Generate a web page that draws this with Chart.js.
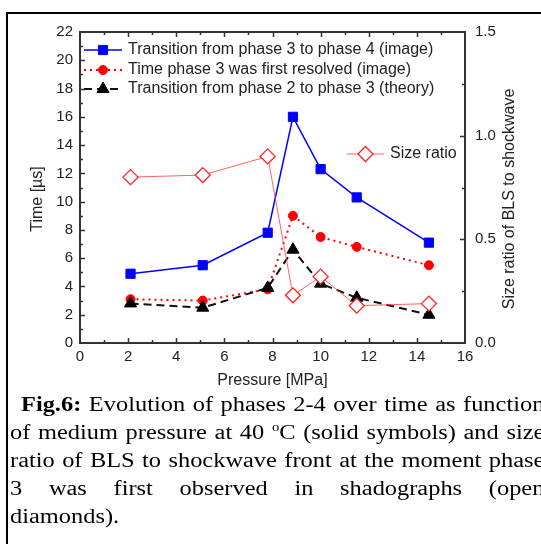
<!DOCTYPE html>
<html>
<head>
<meta charset="utf-8">
<script src="https://cdn.jsdelivr.net/npm/chart.js@4.4.1/dist/chart.umd.min.js"></script>
<style>
  html, body { margin: 0; padding: 0; background: #fff; }
  body { width: 541px; height: 544px; overflow: hidden; position: relative; }
  #frame { position: absolute; left: 6px; top: 12px; width: 700px; height: 700px;
           border-left: 2px solid #000; border-top: 2px solid #000; }
  #chart { position: absolute; left: 0; top: 0; }
  #caption { position: absolute; left: 10px; top: 390px; width: 438px;
             transform: scaleX(1.22); transform-origin: 0 0;
             font-family: "Liberation Serif", "Times New Roman", serif;
             font-size: 20px; line-height: 28px; color: #000; }
  .ln { text-align: justify; text-align-last: justify; }
  .ln.last { text-align-last: left; }
  sup { font-size: 12px; line-height: 0; vertical-align: 8px; }
</style>
</head>
<body>
<div id="frame"></div>
<canvas id="chart" width="541" height="400"></canvas>
<div id="caption">
  <div class="ln" style="text-indent:9px"><b>Fig.6:</b> Evolution of phases 2-4 over time as function</div>
  <div class="ln">of medium pressure at 40 <sup>o</sup>C (solid symbols) and size</div>
  <div class="ln">ratio of BLS to shockwave front at the moment phase</div>
  <div class="ln">3 was first observed in shadographs (open</div>
  <div class="ln last">diamonds).</div>
</div>
<script>
// ---- data ----
const pressure    = [2.1, 5.1, 7.8, 8.85, 10.0, 11.5, 14.5];   // MPa
const phase34     = [4.9, 5.5, 7.8, 16.0, 12.3, 10.3, 7.1];    // µs, blue squares
const phase3first = [3.1, 3.0, 3.8, 9.0, 7.5, 6.8, 5.5];       // µs, red circles
const phase23     = [2.8, 2.5, 3.9, 6.6, 4.2, 3.2, 2.0];       // µs, black triangles
const sizeRatio   = [0.80, 0.81, 0.90, 0.23, 0.32, 0.18, 0.19]; // open diamonds

const seriesLabels = [
    "Transition from phase 3 to phase 4 (image)",
    "Time phase 3 was first resolved (image)",
    "Transition from phase 2 to phase 3 (theory)",
    "Size ratio"
];

const xRange  = [0, 16];
const yRange  = [0, 22];
const y2Range = [0, 1.5];

const tickFont = { family: "'Liberation Sans', Arial, sans-serif", size: 15 };
const textColor = "#222";

function pts(ys) {
    return pressure.map((p, i) => ({ x: p, y: ys[i] }));
}

/* =========================
   frame, inward ticks, titles, legend
========================= */
const decor = {
    id: "decor",
    afterDraw(chart) {
        const { ctx, chartArea: a, scales } = chart;
        ctx.save();

        // inward ticks
        ctx.strokeStyle = "#333";
        ctx.lineWidth = 1.5;
        ctx.beginPath();
        for (let v = xRange[0] + 1; v < xRange[1]; v++) {
            const px = Math.round(scales.x.getPixelForValue(v)) + 0.5;
            const len = v % 2 === 0 ? 5 : 3;
            ctx.moveTo(px, a.bottom); ctx.lineTo(px, a.bottom - len);
            ctx.moveTo(px, a.top);    ctx.lineTo(px, a.top + len);
        }
        for (let v = yRange[0] + 1; v < yRange[1]; v++) {
            const py = Math.round(scales.y.getPixelForValue(v)) + 0.5;
            const len = v % 2 === 0 ? 5 : 3;
            ctx.moveTo(a.left, py); ctx.lineTo(a.left + len, py);
        }
        for (let v = 0.25; v < y2Range[1]; v += 0.25) {
            const py = Math.round(scales.y2.getPixelForValue(v)) + 0.5;
            const len = Math.abs(v % 0.5) < 1e-6 ? 5 : 3;
            ctx.moveTo(a.right, py); ctx.lineTo(a.right - len, py);
        }
        ctx.stroke();

        // frame
        ctx.lineWidth = 2;
        ctx.strokeRect(a.left, a.top, a.right - a.left, a.bottom - a.top);

        // axis titles
        ctx.fillStyle = textColor;
        ctx.font = "16px 'Liberation Sans', Arial, sans-serif";
        ctx.textAlign = "center";
        ctx.textBaseline = "middle";
        ctx.fillText("Pressure [MPa]", (a.left + a.right) / 2, 381);

        ctx.save();
        ctx.translate(38, 199);
        ctx.rotate(-Math.PI / 2);
        ctx.fillText("Time [\u00b5s]", 0, 0);
        ctx.restore();

        ctx.save();
        ctx.translate(510, 199);
        ctx.rotate(-Math.PI / 2);
        ctx.fillText("Size ratio of BLS to shockwave", 0, 0);
        ctx.restore();

        // legend
        const rows = [
            { ds: 0, x0: 84,  x1: 122, y: 50 },
            { ds: 1, x0: 84,  x1: 122, y: 70 },
            { ds: 2, x0: 84,  x1: 122, y: 89 },
            { ds: 3, x0: 347, x1: 384, y: 154 }
        ];
        rows.forEach(r => {
            const d = chart.data.datasets[r.ds];
            ctx.save();
            ctx.strokeStyle = d.borderColor;
            ctx.lineWidth = d.borderWidth;
            ctx.setLineDash(d.borderDash || []);
            ctx.beginPath();
            ctx.moveTo(r.x0, r.y); ctx.lineTo(r.x1, r.y);
            ctx.stroke();
            ctx.setLineDash([]);
            ctx.fillStyle = d.pointBackgroundColor;
            ctx.strokeStyle = d.pointBorderColor;
            ctx.lineWidth = d.pointBorderWidth;
            Chart.helpers.drawPoint(ctx, {
                pointStyle: d.pointStyle, radius: d.pointRadius,
                rotation: 0, borderWidth: d.pointBorderWidth
            }, (r.x0 + r.x1) / 2, r.y);
            ctx.restore();

            ctx.fillStyle = textColor;
            ctx.textAlign = "left";
            ctx.fillText(d.label, r.x1 + 6, r.y);
        });

        ctx.restore();
    }
};

new Chart(document.getElementById("chart"), {
    type: "scatter",
    data: {
        datasets: [
            {
                label: seriesLabels[0], data: pts(phase34), yAxisID: "y",
                showLine: true, order: 3,
                borderColor: "#0000ff", borderWidth: 1.5,
                pointStyle: "rect", pointRadius: 6.5,
                pointBackgroundColor: "#0000ff", pointBorderColor: "#0000ff", pointBorderWidth: 1
            },
            {
                label: seriesLabels[1], data: pts(phase3first), yAxisID: "y",
                showLine: true, order: 2,
                borderColor: "#ff0000", borderWidth: 2, borderDash: [2, 4],
                pointStyle: "circle", pointRadius: 4.5,
                pointBackgroundColor: "#ff0000", pointBorderColor: "#ff0000", pointBorderWidth: 1
            },
            {
                label: seriesLabels[2], data: pts(phase23), yAxisID: "y",
                showLine: true, order: 1,
                borderColor: "#111", borderWidth: 2, borderDash: [8, 5],
                pointStyle: "triangle", pointRadius: 7,
                pointBackgroundColor: "#000", pointBorderColor: "#000", pointBorderWidth: 1
            },
            {
                label: seriesLabels[3], data: pts(sizeRatio), yAxisID: "y2",
                showLine: true, order: 0,
                borderColor: "rgba(255,60,60,0.8)", borderWidth: 1,
                pointStyle: "rectRot", pointRadius: 7.5,
                pointBackgroundColor: "#fff", pointBorderColor: "#ff2020", pointBorderWidth: 1.3
            }
        ]
    },
    options: {
        responsive: false,
        animation: false,
        devicePixelRatio: 1,
        layout: { padding: { top: 32, left: 0, right: 0, bottom: 0 } },
        plugins: { legend: { display: false }, tooltip: { enabled: false } },
        scales: {
            x: {
                type: "linear", min: xRange[0], max: xRange[1],
                ticks: { stepSize: 2, padding: 5, font: tickFont, color: textColor },
                grid: { display: false, drawTicks: false },
                border: { display: false },
                afterFit: s => { s.height = 57; }
            },
            y: {
                position: "left", min: yRange[0], max: yRange[1],
                ticks: { stepSize: 2, padding: 7, font: tickFont, color: textColor },
                grid: { display: false, drawTicks: false },
                border: { display: false },
                afterFit: s => { s.width = 80; }
            },
            y2: {
                position: "right", min: y2Range[0], max: y2Range[1],
                ticks: { stepSize: 0.5, padding: 10, font: tickFont, color: textColor,
                         callback: v => v.toFixed(1) },
                grid: { display: false, drawTicks: false },
                border: { display: false },
                afterFit: s => { s.width = 76; }
            }
        }
    },
    plugins: [decor]
});
</script>
</body>
</html>
